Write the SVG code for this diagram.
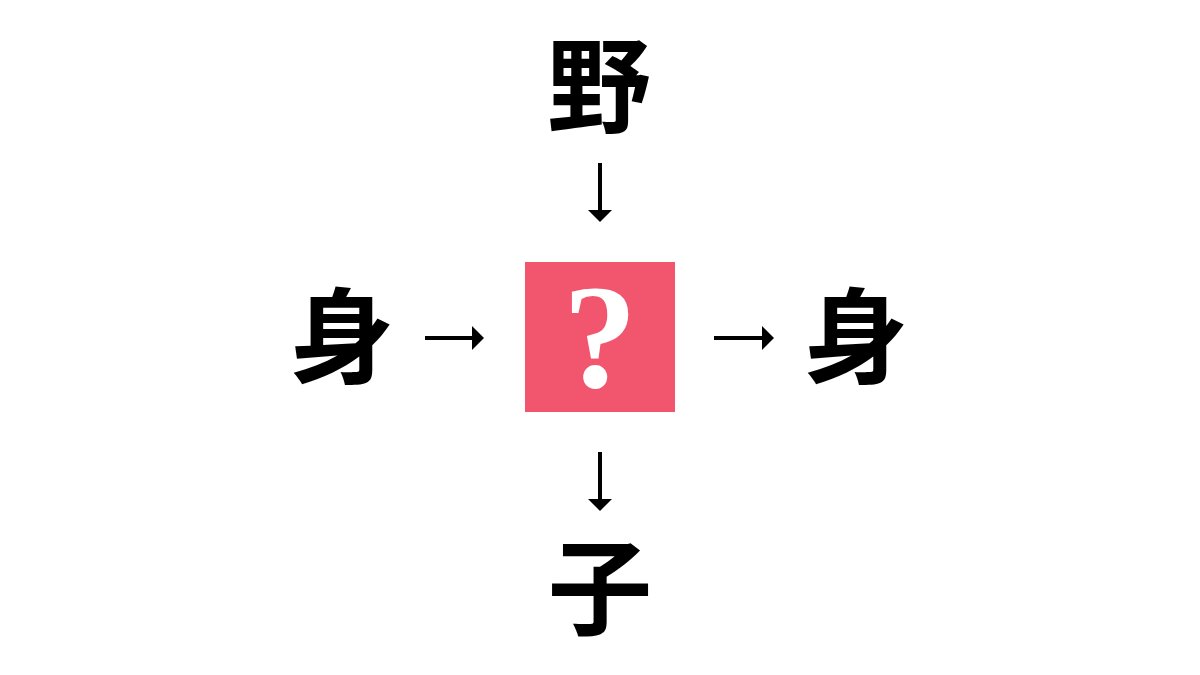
<svg xmlns="http://www.w3.org/2000/svg" width="1200" height="675" viewBox="0 0 1200 675">
<style>
.k{font-family:"Noto Sans CJK JP","Noto Sans CJK SC",sans-serif;font-weight:700;font-size:104px;fill:#000;text-anchor:middle}
.c{stroke:#000;stroke-width:4;fill:none;marker-end:url(#ah)}
.q{font-family:"Liberation Serif",serif;font-weight:700;font-size:148px;fill:#fff;text-anchor:middle}
</style>
<defs>
<marker id="ah" viewBox="0 0 12 24" refX="1" refY="12" markerWidth="12" markerHeight="24" markerUnits="userSpaceOnUse" orient="auto">
<path d="M0,0 L12,12 L0,24 Z" fill="#000"/>
</marker>
</defs>
<rect width="1200" height="675" fill="#fff"/>
<g id="connectors">
<line class="c" x1="600" y1="163" x2="600" y2="211"/>
<line class="c" x1="600" y1="452" x2="600" y2="500"/>
<line class="c" x1="425" y1="338" x2="473" y2="338"/>
<line class="c" x1="714" y1="338" x2="763" y2="338"/>
</g>
<g id="node-top"><text class="k" x="599" y="125">野</text></g>
<g id="node-left"><text class="k" x="342" y="376">身</text></g>
<g id="node-center">
<rect x="525" y="262" width="150" height="150" fill="#F2566F"/>
<text class="q" x="600" y="387">?</text>
</g>
<g id="node-right"><text class="k" x="856" y="376">身</text></g>
<g id="node-bottom"><text class="k" x="600" y="627">子</text></g>
</svg>
